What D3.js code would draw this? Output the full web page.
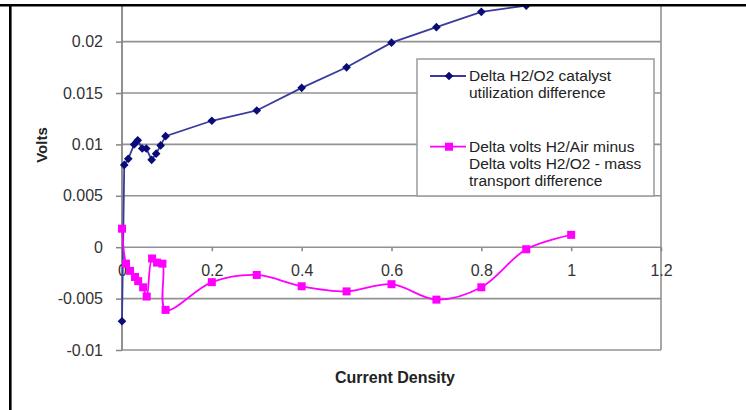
<!DOCTYPE html>
<html>
<head>
<meta charset="utf-8">
<script src="https://cdn.jsdelivr.net/npm/d3@7"></script>
<style>
  html, body { margin: 0; padding: 0; background: #fff; }
  svg { display: block; font-family: "Liberation Sans", Arial, sans-serif; }
</style>
</head>
<body>
<svg id="chart" width="746" height="410"></svg>
<script>
// Current density (x) and voltage differences (y) for the two series
const catalystX = [0, 0.005, 0.014, 0.027, 0.035, 0.045, 0.054, 0.066, 0.076, 0.086, 0.097,
                   0.2, 0.3, 0.4, 0.5, 0.6, 0.7, 0.8, 0.9];
const catalystY = [-0.0072, 0.0080, 0.0086, 0.0100, 0.0104, 0.0096, 0.0096, 0.0085, 0.0091, 0.0099, 0.0108,
                   0.0123, 0.0133, 0.0155, 0.0175, 0.0199, 0.0214, 0.0229, 0.0235];

const massX = [0, 0.009, 0.018, 0.029, 0.036, 0.047, 0.055, 0.067, 0.078, 0.09, 0.097,
               0.2, 0.3, 0.4, 0.5, 0.6, 0.7, 0.8, 0.9, 1.0];
const massY = [0.0018, -0.0016, -0.0023, -0.0029, -0.0033, -0.0039, -0.0048, -0.0011, -0.0015, -0.0016, -0.0061,
               -0.0034, -0.0027, -0.0038, -0.0043, -0.0036, -0.0051, -0.0039, -0.0002, 0.0012];

const xTicks = [0, 0.2, 0.4, 0.6, 0.8, 1, 1.2];
const yTicks = [-0.01, -0.005, 0, 0.005, 0.01, 0.015, 0.02];

const seriesNames = [
  ["Delta H2/O2 catalyst", "utilization difference"],
  ["Delta volts H2/Air minus", "Delta volts H2/O2 - mass", "transport difference"]
];

const svg = d3.select("#chart");

const x = d3.scaleLinear().domain([0, 1.2]).range([122, 661]);
const y = d3.scaleLinear().domain([-0.01, 0.025]).range([350, -9.8]);

const frameTop = 6;

// clip region for the plot (top edge cut by the frame line)
svg.append("defs").append("clipPath").attr("id", "plotClip")
  .append("rect")
  .attr("x", x(0) - 10).attr("y", frameTop)
  .attr("width", x(1.2) - x(0) + 20).attr("height", y(-0.01) - frameTop + 10);

const gridColor = "#929292";

// horizontal gridlines
svg.append("g").selectAll("line").data(yTicks).join("line")
  .attr("x1", x(0)).attr("x2", x(1.2))
  .attr("y1", d => y(d)).attr("y2", d => y(d))
  .attr("stroke", gridColor).attr("stroke-width", 1.6);

// right border of the plot area
svg.append("line")
  .attr("x1", x(1.2)).attr("x2", x(1.2))
  .attr("y1", frameTop).attr("y2", y(-0.01))
  .attr("stroke", gridColor).attr("stroke-width", 1.6);

// plain number labels with a hyphen for negatives
const numLabel = d => String(+d.toFixed(3));

// y axis
const yAxis = svg.append("g").attr("transform", `translate(${x(0)},0)`)
  .call(d3.axisLeft(y).tickValues(yTicks).tickSize(6).tickPadding(13).tickFormat(numLabel));
yAxis.select(".domain").remove();
yAxis.append("line").attr("x1", 0).attr("x2", 0).attr("y1", frameTop).attr("y2", y(-0.01))
  .attr("stroke", "#858585").attr("stroke-width", 1.8);
yAxis.selectAll(".tick line").attr("stroke", "#858585").attr("stroke-width", 1.5);
yAxis.selectAll(".tick text").attr("fill", "#333").style("font-size", "16px")
  .attr("font-family", "Liberation Sans, Arial, sans-serif");

// x axis along y = 0
const xAxis = svg.append("g").attr("transform", `translate(0,${y(0)})`)
  .call(d3.axisBottom(x).tickValues(xTicks).tickSize(4).tickPadding(13).tickFormat(numLabel));
xAxis.select(".domain").remove();
xAxis.selectAll(".tick line").attr("stroke", "#858585").attr("stroke-width", 1.5);
xAxis.selectAll(".tick text").attr("fill", "#333").style("font-size", "16px")
  .attr("font-family", "Liberation Sans, Arial, sans-serif");

// series
const plot = svg.append("g").attr("clip-path", "url(#plotClip)");

const catalyst = catalystX.map((v, i) => [v, catalystY[i]]);
const mass = massX.map((v, i) => [v, massY[i]]);

const blueLine = "#3a3a9c", blueMark = "#0a0a78", pink = "#ff00ff";

plot.append("path").datum(catalyst)
  .attr("d", d3.line().x(d => x(d[0])).y(d => y(d[1])).curve(d3.curveLinear))
  .attr("fill", "none").attr("stroke", blueLine).attr("stroke-width", 1.8);

plot.append("g").selectAll("path").data(catalyst).join("path")
  .attr("transform", d => `translate(${x(d[0])},${y(d[1])})`)
  .attr("d", d3.symbol().type(d3.symbolDiamond2).size(48))
  .attr("fill", blueMark);

plot.append("path").datum(mass)
  .attr("d", d3.line().x(d => x(d[0])).y(d => y(d[1])).curve(d3.curveCatmullRom.alpha(0.5)))
  .attr("fill", "none").attr("stroke", pink).attr("stroke-width", 1.8);

plot.append("g").selectAll("rect").data(mass).join("rect")
  .attr("x", d => x(d[0]) - 4).attr("y", d => y(d[1]) - 4)
  .attr("width", 8).attr("height", 8)
  .attr("fill", pink);

// legend
const legend = svg.append("g");
legend.append("rect")
  .attr("x", 417).attr("y", 59).attr("width", 237).attr("height", 137)
  .attr("fill", "#fff").attr("stroke", "#9a9a9a").attr("stroke-width", 1.5);

const legendRows = [
  { y: 76, names: seriesNames[0], color: blueLine, mark: "diamond", baseline: 80.5 },
  { y: 146.7, names: seriesNames[1], color: pink, mark: "square", baseline: 151.5 }
];
legendRows.forEach(r => {
  legend.append("line").attr("x1", 430).attr("x2", 466).attr("y1", r.y).attr("y2", r.y)
    .attr("stroke", r.color).attr("stroke-width", 1.8);
  if (r.mark === "diamond") {
    legend.append("path").attr("transform", `translate(449,${r.y})`)
      .attr("d", d3.symbol().type(d3.symbolDiamond2).size(48)).attr("fill", blueMark);
  } else {
    legend.append("rect").attr("x", 445).attr("y", r.y - 4).attr("width", 8).attr("height", 8)
      .attr("fill", pink);
  }
  legend.append("text").attr("x", 469).attr("y", r.baseline)
    .attr("fill", "#222").style("font-size", "15.5px")
    .selectAll("tspan").data(r.names).join("tspan")
    .attr("x", 469).attr("dy", (d, i) => i === 0 ? 0 : 17.4)
    .text(d => d);
});

// axis titles
svg.append("text").attr("x", 395).attr("y", 383).attr("text-anchor", "middle")
  .attr("fill", "#222").style("font-size", "16px").style("font-weight", "bold")
  .text("Current Density");

svg.append("text").attr("transform", "translate(47,145) rotate(-90)")
  .attr("text-anchor", "middle")
  .attr("fill", "#222").style("font-size", "15px").style("font-weight", "bold")
  .text("Volts");

// surrounding table frame
svg.append("rect").attr("x", 0).attr("y", 0).attr("width", 746).attr("height", 4).attr("fill", "#fff");
svg.append("line").attr("x1", 0).attr("x2", 746).attr("y1", 5.3).attr("y2", 5.3)
  .attr("stroke", "#000").attr("stroke-width", 2.6);
svg.append("line").attr("x1", 10.3).attr("x2", 10.3).attr("y1", 5).attr("y2", 410)
  .attr("stroke", "#000").attr("stroke-width", 2.6);
</script>
</body>
</html>
